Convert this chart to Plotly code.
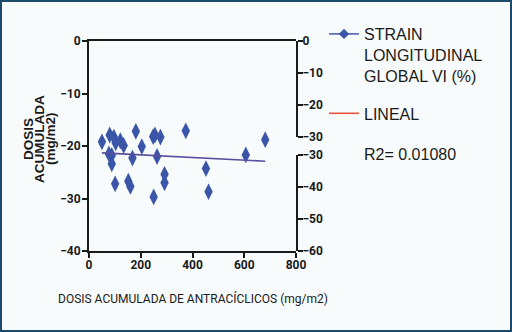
import plotly.graph_objects as go

# ---- data ----
dose = [50, 80, 77, 88, 88, 96, 103, 101, 121, 134, 152, 160, 168, 181, 204,
        248, 255, 250, 263, 276, 292, 292, 374, 452, 462, 606, 681]
strain = [-19.2, -17.9, -21.5, -21.8, -23.4, -18.3, -19.4, -27.2, -19.0, -19.9,
          -26.7, -27.7, -22.3, -17.2, -20.1, -18.2, -17.9, -29.7, -22.0, -18.3,
          -25.4, -27.0, -17.1, -24.3, -28.7, -21.7, -18.8]
fit_x = [50, 681]
fit_y = [-21.3, -22.9]
x_ticks = [0, 200, 400, 600, 800]
left_ticks = [0, -10, -20, -30, -40]
right_top_ticks = [0, -10, -20, -30]
right_bot_ticks = [-30, -40, -50, -60]
series_name = "STRAIN<br>LONGITUDINAL<br>GLOBAL VI (%)"
fit_name = "LINEAL"
r2_label = "R2= 0.01080"

W, H = 512, 332
L, R, T, B = 89, 216, 41, 81
PW, PH = W - L - R, H - T - B


def px(xp):
    return (xp - L) / PW


def py(yp):
    return (H - B - yp) / PH


TICKF = "Roboto, Liberation Sans, Arial"
REG = "Liberation Sans, Arial, sans-serif"
AXC = "#1a1a1a"
BG = "#f8fbfc"

fig = go.Figure()
fig.add_trace(go.Scatter(x=dose, y=strain, mode="markers", showlegend=False,
                         marker=dict(symbol="diamond-tall", size=12, color="#3b56a8")))
fig.add_trace(go.Scatter(x=fit_x, y=fit_y, mode="lines", showlegend=False,
                         line=dict(color="#5a4ea0", width=1.6)))
# legend entries
fig.add_trace(go.Scatter(x=[None], y=[None], mode="lines+markers", name=series_name,
                         legendgroup="a",
                         line=dict(color="#4a5fb0", width=1.6),
                         marker=dict(symbol="diamond", size=8, color="#3b56a8")))
fig.add_trace(go.Scatter(x=[None], y=[None], mode="lines", name=fit_name,
                         legendgroup="b", line=dict(color="#e8503c", width=1.6)))
# right broken axis carriers
fig.add_trace(go.Scatter(x=[None], y=[None], yaxis="y3", showlegend=False))
fig.add_trace(go.Scatter(x=[None], y=[None], yaxis="y4", showlegend=False))

tickfont = dict(family=TICKF, size=12, color=AXC, weight="bold")
common = dict(showgrid=False, zeroline=False, showline=True, linecolor=AXC,
              linewidth=2, ticks="outside", ticklen=5, tickwidth=2, tickcolor=AXC,
              tickfont=tickfont)

fig.update_layout(
    width=W, height=H,
    margin=dict(l=L, r=R, t=T, b=B, autoexpand=False),
    paper_bgcolor=BG, plot_bgcolor="rgba(0,0,0,0)",
    xaxis=dict(range=[0, 800], tickvals=x_ticks, mirror=True, ticklabelstandoff=-3, **common),
    yaxis=dict(range=[-40, 0], tickvals=left_ticks, ticklabelstandoff=-1, **common),
    yaxis3=dict(range=[-30, 0], tickvals=right_top_ticks, domain=[py(136.5), 1],
                anchor="x", side="right", ticklabelstandoff=-3, **common),
    yaxis4=dict(range=[-60, -30], tickvals=right_bot_ticks, domain=[0, py(155)],
                anchor="x", side="right", ticklabelstandoff=-3, **common),
    legend=dict(x=px(324), y=py(17), xanchor="left", yanchor="top",
                valign="top", traceorder="grouped", tracegroupgap=14,
                bgcolor="rgba(0,0,0,0)",
                font=dict(family=REG, size=16, color="#1a1a1a")),
    showlegend=True,
)

fig.add_annotation(text=r2_label, xref="paper", yref="paper", x=px(362), y=py(154),
                   xanchor="left", yanchor="middle", showarrow=False,
                   font=dict(family=REG, size=16, color="#1a1a1a"))

# axis titles
fig.add_annotation(text="DOSIS ACUMULADA DE ANTRACÍCLICOS (mg/m2)", xref="paper", yref="paper",
                   x=px(193), y=py(298), xanchor="center", yanchor="middle", showarrow=False,
                   font=dict(family=TICKF, size=12, color="#1a1a1a"))
for txt, xc in [("DOSIS", 28), ("ACUMULADA", 39), ("(mg/m2)", 50)]:
    fig.add_annotation(text=txt, xref="paper", yref="paper", x=px(xc), y=py(139),
                       xanchor="center", yanchor="middle", textangle=-90, showarrow=False,
                       font=dict(family="Liberation Sans, Arial", size=13.5,
                                 color="#1a1a1a", weight="bold"))

# outer frame
fig.add_shape(type="rect", xref="paper", yref="paper",
              x0=px(1), x1=px(W - 1), y0=py(H - 1), y1=py(1),
              line=dict(color="#1d4a6a", width=2), fillcolor="rgba(0,0,0,0)", layer="below")

fig.write_html("out.html", config={"displayModeBar": False},
               post_script="document.body.style.margin='0';document.body.style.padding='0';")
